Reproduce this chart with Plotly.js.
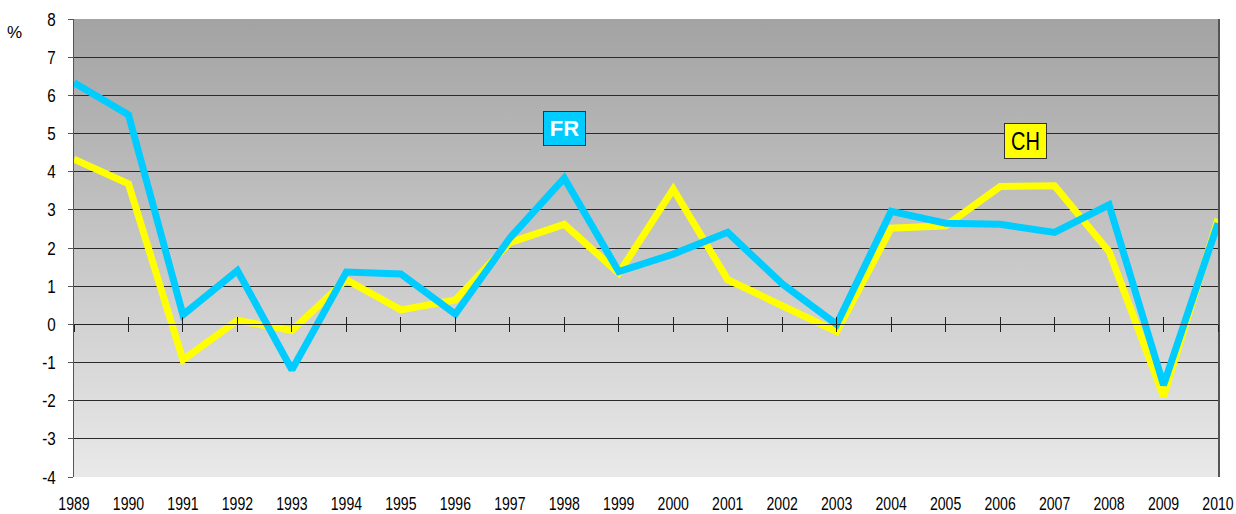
<!DOCTYPE html>
<html>
<head>
<meta charset="utf-8">
<script src="https://cdn.plot.ly/plotly-3.0.1.min.js"></script>
<style>
  html, body { margin: 0; padding: 0; background: #ffffff; }
  #chart { width: 1236px; height: 514px; }
</style>
</head>
<body>
<div id="chart"></div>
<script>
// ---- data ----
const years = [1989,1990,1991,1992,1993,1994,1995,1996,1997,1998,1999,2000,2001,2002,2003,2004,2005,2006,2007,2008,2009,2010];
const frValues = [6.33,5.49,0.25,1.41,-1.19,1.37,1.32,0.27,2.26,3.83,1.38,1.84,2.41,1.06,0.00,2.96,2.65,2.62,2.41,3.13,-1.59,2.65];
const chValues = [4.33,3.68,-0.93,0.10,-0.16,1.17,0.38,0.64,2.14,2.62,1.34,3.54,1.17,0.47,-0.19,2.52,2.58,3.61,3.63,1.91,-1.89,2.76];
const yTicks = [-4,-3,-2,-1,0,1,2,3,4,5,6,7,8];
const seriesNames = ["CH","FR"];
const unitLabel = "%";

const FONT = '"Liberation Sans", Arial, sans-serif';

const gradSvg = '<svg xmlns="http://www.w3.org/2000/svg" width="10" height="100" preserveAspectRatio="none">' +
  '<defs><linearGradient id="g" x1="0" y1="0" x2="0" y2="1">' +
  '<stop offset="0" stop-color="#a3a3a3"/><stop offset="1" stop-color="#e9e9e9"/></linearGradient></defs>' +
  '<rect width="10" height="100" fill="url(#g)"/></svg>';
const gradUri = 'data:image/svg+xml;charset=utf-8,' + encodeURIComponent(gradSvg);

const traces = [
  { x: years, y: chValues, name: seriesNames[0], type: 'scatter', mode: 'lines',
    line: { color: '#ffff00', width: 7 }, hoverinfo: 'x+y' },
  { x: years, y: frValues, name: seriesNames[1], type: 'scatter', mode: 'lines',
    line: { color: '#00ccff', width: 7 }, hoverinfo: 'x+y' },
  // helper traces so the zero-line tick axes are drawn
  { x: years, y: frValues, xaxis: 'x2', type: 'scatter', mode: 'lines',
    line: { width: 0 }, opacity: 0, hoverinfo: 'skip', showlegend: false },
  { x: years, y: frValues, xaxis: 'x3', type: 'scatter', mode: 'lines',
    line: { width: 0 }, opacity: 0, hoverinfo: 'skip', showlegend: false }
];

const zeroPos = (0 - yTicks[0]) / (yTicks[yTicks.length-1] - yTicks[0]);

const layout = {
  width: 1236, height: 514,
  margin: { l: 74, r: 18, t: 19, b: 37, pad: 0 },
  paper_bgcolor: '#ffffff',
  plot_bgcolor: 'rgba(0,0,0,0)',
  showlegend: false,
  font: { family: FONT, size: 19, color: '#000000' },
  images: [{
    source: gradUri, xref: 'paper', yref: 'paper', x: 0, y: 1,
    sizex: 1, sizey: 1, sizing: 'stretch', layer: 'below', xanchor: 'left', yanchor: 'top'
  }],
  xaxis: {
    range: [years[0], years[years.length-1]],
    tickmode: 'array', tickvals: years, ticktext: years.map(String),
    showgrid: false, zeroline: false, showline: false, ticks: '',
    ticklabelstandoff: 13, ticklabeloverflow: 'allow',
    tickfont: { family: FONT, size: 19, color: '#000' }
  },
  xaxis2: {
    overlaying: 'x', anchor: 'free', position: zeroPos,
    range: [years[0], years[years.length-1]],
    tickmode: 'array', tickvals: years,
    showticklabels: false, showgrid: false, zeroline: false,
    showline: true, linecolor: '#222', linewidth: 1,
    ticks: 'inside', ticklen: 7, tickwidth: 1, tickcolor: '#222'
  },
  xaxis3: {
    overlaying: 'x', anchor: 'free', position: zeroPos,
    range: [years[0], years[years.length-1]],
    tickmode: 'array', tickvals: years,
    showticklabels: false, showgrid: false, zeroline: false, showline: false,
    ticks: 'outside', ticklen: 7, tickwidth: 1, tickcolor: '#222'
  },
  yaxis: {
    range: [yTicks[0], yTicks[yTicks.length-1]],
    tickmode: 'array', tickvals: yTicks, ticktext: yTicks.map(String),
    showgrid: true, gridcolor: '#2a2a2a', gridwidth: 1,
    zeroline: false,
    showline: true, linecolor: '#555', linewidth: 1.5, mirror: true,
    ticks: 'outside', ticklen: 5, tickcolor: '#555',
    ticklabelstandoff: 8,
    tickfont: { family: FONT, size: 19, color: '#000' }
  },
  annotations: [
    { text: unitLabel, xref: 'paper', yref: 'paper', x: -0.052, y: 1.0, xanchor: 'center', yanchor: 'top',
      showarrow: false, font: { family: FONT, size: 17, color: '#000' }, yshift: -2 },
    { text: '<b>' + seriesNames[1] + '</b>', x: 1998, y: 5.13, xref: 'x', yref: 'y', showarrow: false,
      bgcolor: '#00ccff', bordercolor: '#333', borderwidth: 1, borderpad: 2,
      width: 37, height: 29, font: { family: FONT, size: 22, color: '#ffffff' } },
    { text: seriesNames[0], x: 2006.47, y: 4.81, xref: 'x', yref: 'y', showarrow: false,
      bgcolor: '#ffff00', bordercolor: '#333', borderwidth: 1, borderpad: 2,
      width: 37, height: 30, font: { family: FONT, size: 25, color: '#000000' } }
  ]
};

function condenseEl(t, factor, anchorRight) {
  try {
    const w = t.getComputedTextLength();
    if (w > 0) {
      t.setAttribute('textLength', (w * factor).toFixed(2));
      t.setAttribute('lengthAdjust', 'spacingAndGlyphs');
    }
  } catch (e) {}
}
function condense(selector, factor) {
  document.querySelectorAll(selector).forEach(function (t) { condenseEl(t, factor); });
}

Plotly.newPlot('chart', traces, layout, { displayModeBar: false, staticPlot: true }).then(function () {
  condense('#chart g.xtick text', 0.74);
  condense('#chart g.ytick text', 0.80);
  document.querySelectorAll('#chart text.annotation-text').forEach(function (t) {
    if (t.textContent === seriesNames[0]) condenseEl(t, 0.80);
  });
});
</script>
</body>
</html>
